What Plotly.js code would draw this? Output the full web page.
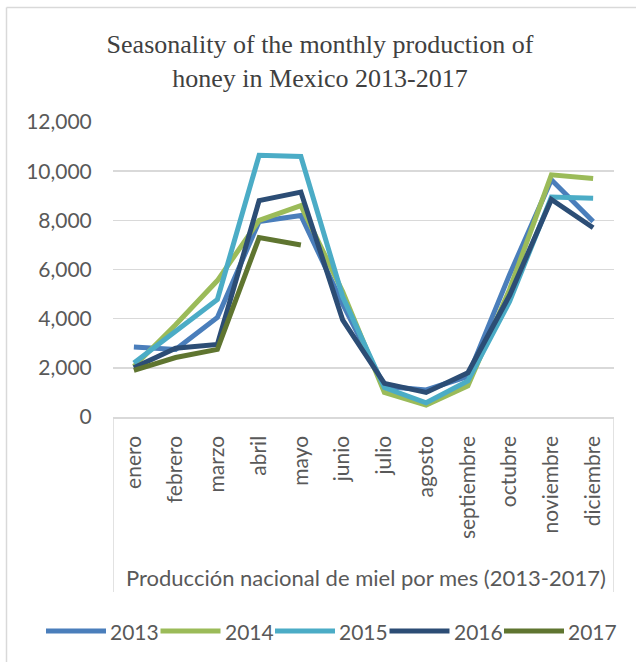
<!DOCTYPE html>
<html>
<head>
<meta charset="utf-8">
<script src="https://cdn.plot.ly/plotly-3.0.1.min.js"></script>
<style>html,body{margin:0;padding:0;background:#fff;}#chart{width:636px;height:662px;}</style>
</head>
<body>
<div id="chart"></div>
<script>
// ---- data ----
const months = ['enero','febrero','marzo','abril','mayo','junio','julio','agosto','septiembre','octubre','noviembre','diciembre'];
const years = ['2013','2014','2015','2016','2017'];
const v2013 = [2850, 2750, 4050, 7950, 8200, 4600, 1250, 1100, 1650, 5800, 9650, 7950];
const v2014 = [2050, 3750, 5550, 8000, 8600, 5100, 1000, 480, 1270, 5200, 9850, 9700];
const v2015 = [2200, 3500, 4780, 10650, 10600, 4900, 1200, 580, 1470, 4700, 8950, 8900];
const v2016 = [2000, 2800, 2950, 8800, 9150, 3950, 1370, 1000, 1800, 4950, 8850, 7700];
const v2017 = [1900, 2420, 2750, 7300, 7000];
const colors = ['#4A7EBB', '#9BBB59', '#4BACC6', '#2C4D75', '#5F7530'];
const chartTitle = 'Seasonality of the monthly production of<br>honey in Mexico 2013-2017';
const xTitle = 'Producción nacional de miel por mes (2013-2017)';

// ---- geometry helpers ----
const WIDTH = 636, HEIGHT = 662;
const M = {l: 113, r: 22, t: 122, b: 245};
const PW = WIDTH - M.l - M.r, PH = HEIGHT - M.t - M.b;
const px2x = px => (px - M.l) / PW;
const py2y = py => (HEIGHT - M.b - py) / PH;

const series = [v2013, v2014, v2015, v2016, v2017];
const sansFont = 'Lato, "Open Sans", sans-serif';
const textCol = '#595959';

const traces = series.map((vals, i) => ({
  type: 'scatter',
  mode: 'lines',
  name: years[i],
  x: months.slice(0, vals.length),
  y: vals,
  line: {color: colors[i], width: 5},
  showlegend: false,
  hoverinfo: 'x+y+name'
}));

const shapes = [
  // outer chart border (left + top)
  {type: 'line', xref: 'paper', yref: 'paper', x0: px2x(6.5), x1: px2x(6.5), y0: py2y(670), y1: py2y(7.5), line: {color: '#d9d9d9', width: 1.5}},
  {type: 'line', xref: 'paper', yref: 'paper', x0: px2x(6.5), x1: px2x(640), y0: py2y(7.5), y1: py2y(7.5), line: {color: '#d9d9d9', width: 1.5}},
  // box around category axis
  {type: 'line', xref: 'x', yref: 'paper', x0: -0.5, x1: -0.5, y0: 0, y1: py2y(592), line: {color: '#d9d9d9', width: 1.5}},
  {type: 'line', xref: 'x', yref: 'paper', x0: 11.5, x1: 11.5, y0: 0, y1: py2y(592), line: {color: '#d9d9d9', width: 1.5}}
];

const annotations = [
  {xref: 'paper', yref: 'paper', x: px2x(366), y: py2y(577), text: xTitle, showarrow: false,
   xanchor: 'center', yanchor: 'middle', font: {family: sansFont, size: 22, color: textCol}}
];

// legend (custom, wide line samples)
const legY = 631, legStart = 46, legStep = 114.5, legLine = 60;
years.forEach((yr, i) => {
  const x0 = legStart + i * legStep;
  shapes.push({type: 'line', xref: 'paper', yref: 'paper', x0: px2x(x0), x1: px2x(x0 + legLine),
    y0: py2y(legY), y1: py2y(legY), line: {color: colors[i], width: 5}});
  annotations.push({xref: 'paper', yref: 'paper', x: px2x(x0 + legLine + 2), y: py2y(legY), text: yr,
    showarrow: false, xanchor: 'left', yanchor: 'middle', font: {family: sansFont, size: 21, color: textCol}});
});

const layout = {
  width: WIDTH, height: HEIGHT,
  margin: M,
  paper_bgcolor: '#ffffff', plot_bgcolor: '#ffffff',
  showlegend: false,
  title: {text: chartTitle, font: {family: '"Liberation Serif", "Times New Roman", serif', size: 26, color: '#404040'},
          x: 320 / WIDTH, xref: 'container', xanchor: 'center', y: 1 - 53 / HEIGHT, yref: 'container', yanchor: 'top'},
  xaxis: {
    type: 'category', categoryorder: 'array', categoryarray: months,
    range: [-0.5, 11.5], tickangle: -90,
    tickfont: {family: sansFont, size: 21, color: textCol},
    showgrid: false, zeroline: false,
    showline: true, linecolor: '#d9d9d9', linewidth: 1.5,
    ticks: 'outside', ticklen: 9, tickcolor: 'rgba(0,0,0,0)',
    fixedrange: true
  },
  yaxis: {
    range: [0, 12000], dtick: 2000, tick0: 0, tickformat: ',d',
    tickfont: {family: sansFont, size: 21, color: textCol},
    showgrid: true, gridcolor: '#d9d9d9', gridwidth: 1.5,
    zeroline: false, showline: false,
    ticks: 'outside', ticklen: 16, tickcolor: 'rgba(0,0,0,0)',
    fixedrange: true
  },
  shapes: shapes,
  annotations: annotations
};

Plotly.newPlot('chart', traces, layout, {displayModeBar: false, staticPlot: true});
</script>
</body>
</html>
